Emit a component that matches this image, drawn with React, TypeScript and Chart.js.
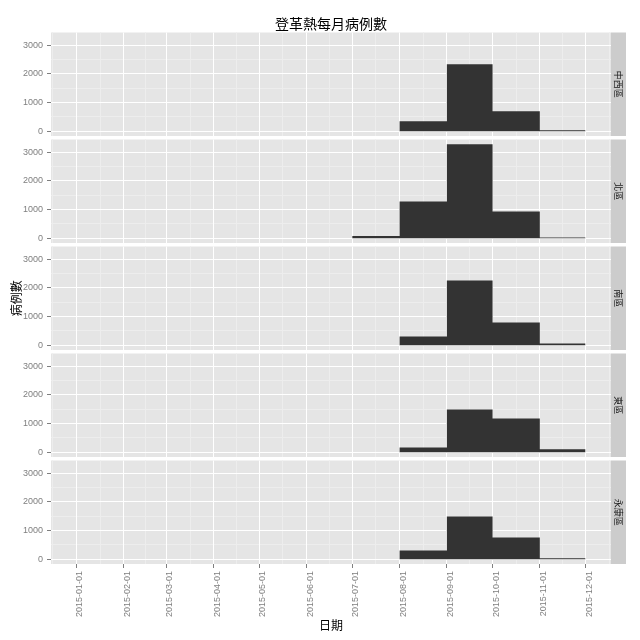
import { useEffect, useRef } from "react";
import { Chart, registerables } from "chart.js";

Chart.register(...registerables);

// ---------- data ----------
const TITLE = "登革熱每月病例數";
const X_TITLE = "日期";
const Y_TITLE = "病例數";

// month bin starts (the last one closes the final bin)
const monthStarts = [
  "2015-01-01", "2015-02-01", "2015-03-01", "2015-04-01", "2015-05-01", "2015-06-01",
  "2015-07-01", "2015-08-01", "2015-09-01", "2015-10-01", "2015-11-01", "2015-12-01",
];

const districts = ["中西區", "北區", "南區", "東區", "永康區"];

// monthly case counts, Jan..Nov 2015
const casesZhongxi = [0, 0, 0, 0, 0, 0, 0, 350, 2335, 697, 35];
const casesNorth = [0, 0, 0, 0, 0, 0, 84, 1280, 3275, 931, 28];
const casesSouth = [0, 0, 0, 0, 0, 0, 0, 303, 2257, 792, 59];
const casesEast = [0, 0, 0, 0, 0, 0, 0, 164, 1489, 1175, 105];
const casesYongkang = [0, 0, 0, 0, 0, 0, 0, 303, 1489, 757, 35];

const seriesByDistrict = [casesZhongxi, casesNorth, casesSouth, casesEast, casesYongkang];

const yMajorTicks = [0, 1000, 2000, 3000];
const yMinorTicks = [500, 1500, 2500];

// ---------- derived scale helpers ----------
const DAY_MS = 86400000;
const t0 = Date.parse(monthStarts[0] + "T00:00:00Z");
const dayOf = (s: string) => (Date.parse(s + "T00:00:00Z") - t0) / DAY_MS;
const majorDays = monthStarts.map(dayOf);
const span = majorDays[majorDays.length - 1] - majorDays[0];
const xMin = majorDays[0] - 0.05 * span;
const xMax = majorDays[majorDays.length - 1] + 0.05 * span;
const step0 = majorDays[1] - majorDays[0];
const extDays = [majorDays[0] - step0, ...majorDays, majorDays[majorDays.length - 1] + step0];
const xMinorDays = extDays
  .slice(1)
  .map((d, i) => (d + extDays[i]) / 2)
  .filter((d) => d > xMin && d < xMax);

const maxCount = Math.max(...seriesByDistrict.flat());
const yMin = -0.05 * maxCount;
const yMax = maxCount * 1.05;

// ---------- layout ----------
const W = 640;
const PANEL_TOP0 = 32.5;
const PANEL_H = 103.5;
const PANEL_STEP = 107;
const PLOT_LEFT = 51;
const PLOT_RIGHT = 611;
const STRIP_W = 15;

const NUM_FONT = '"Liberation Sans", Arial, sans-serif';
const CJK_FONT = '"Noto Sans CJK TC", "Noto Sans CJK SC", sans-serif';
const AXIS_GREY = "#7F7F7F";

const panelBg = {
  id: "panelBg",
  beforeDraw(chart: any) {
    const { ctx, chartArea: a } = chart;
    ctx.save();
    ctx.fillStyle = "#E5E5E5";
    ctx.fillRect(a.left, a.top, a.right - a.left, a.bottom - a.top);
    ctx.restore();
  },
};

const stripPlugin = {
  id: "strip",
  afterDraw(chart: any, _args: any, opts: any) {
    const { ctx, chartArea: a } = chart;
    ctx.save();
    ctx.fillStyle = "#CCCCCC";
    ctx.fillRect(a.right, a.top, STRIP_W, a.bottom - a.top);
    ctx.translate(a.right + STRIP_W / 2, (a.top + a.bottom) / 2);
    ctx.rotate(Math.PI / 2);
    ctx.fillStyle = "#1A1A1A";
    ctx.font = "9px " + CJK_FONT;
    ctx.textAlign = "center";
    ctx.textBaseline = "middle";
    ctx.fillText(opts.label, 0, 0);
    ctx.restore();
  },
};

function makeConfig(i: number): any {
  const n = districts.length;
  const top = PANEL_TOP0 + i * PANEL_STEP;
  const bottom = top + PANEL_H;
  const isFirst = i === 0;
  const isLast = i === n - 1;
  const titleH = isFirst ? 14 * 1.2 : 0;
  const vals = seriesByDistrict[i];
  const points = vals.map((v, k) => ({ x: majorDays[k], y: v }));
  points.push({ x: majorDays[vals.length], y: vals[vals.length - 1] });

  return {
    type: "line",
    data: {
      datasets: [
        {
          label: districts[i],
          data: points,
          stepped: "before",
          fill: "origin",
          backgroundColor: "#333333",
          borderColor: "rgba(0,0,0,0)",
          borderWidth: 0,
          pointRadius: 0,
          pointHoverRadius: 0,
        },
      ],
    },
    options: {
      responsive: false,
      animation: false,
      events: [],
      layout: {
        padding: {
          left: 0,
          right: W - PLOT_RIGHT,
          top: top - titleH,
          bottom: isLast ? 0 : W - bottom,
        },
      },
      plugins: {
        legend: { display: false },
        tooltip: { enabled: false },
        title: {
          display: isFirst,
          text: TITLE,
          fullSize: false,
          color: "#000000",
          font: { family: CJK_FONT, size: 14, weight: "normal" },
          padding: 0,
        },
        strip: { label: districts[i] },
      },
      scales: {
        xMinor: {
          type: "linear",
          axis: "x",
          position: "bottom",
          min: xMin,
          max: xMax,
          bounds: "data",
          afterBuildTicks: (s: any) => {
            s.ticks = xMinorDays.map((v) => ({ value: v }));
          },
          afterFit: (s: any) => {
            s.height = 0;
          },
          ticks: { display: false },
          grid: { color: "#EDEDED", lineWidth: 1, drawTicks: false, z: -2 },
          border: { display: false },
        },
        yMinor: {
          type: "linear",
          axis: "y",
          position: "left",
          min: yMin,
          max: yMax,
          bounds: "data",
          afterBuildTicks: (s: any) => {
            s.ticks = yMinorTicks.map((v) => ({ value: v }));
          },
          afterFit: (s: any) => {
            s.width = 0;
          },
          ticks: { display: false },
          grid: { color: "#EDEDED", lineWidth: 1, drawTicks: false, z: -2 },
          border: { display: false },
        },
        x: {
          type: "linear",
          axis: "x",
          position: "bottom",
          min: xMin,
          max: xMax,
          bounds: "data",
          afterBuildTicks: (s: any) => {
            s.ticks = majorDays.map((v) => ({ value: v }));
          },
          afterFit: (s: any) => {
            s.height = isLast ? W - bottom : 0;
          },
          ticks: {
            display: isLast,
            autoSkip: false,
            minRotation: 90,
            maxRotation: 90,
            color: AXIS_GREY,
            font: { family: NUM_FONT, size: 9 },
            padding: 3,
            labelOffset: 3.5,
            callback: (_v: any, idx: number) => monthStarts[idx],
          },
          grid: {
            color: "#FFFFFF",
            lineWidth: 1,
            drawTicks: isLast,
            tickLength: 4,
            tickColor: AXIS_GREY,
            z: -1,
          },
          border: { display: false },
          title: {
            display: isLast,
            text: X_TITLE,
            color: "#000000",
            font: { family: CJK_FONT, size: 12 },
            padding: { top: 0, bottom: 7.8 },
          },
        },
        y: {
          type: "linear",
          axis: "y",
          position: "left",
          min: yMin,
          max: yMax,
          bounds: "data",
          afterBuildTicks: (s: any) => {
            s.ticks = yMajorTicks.map((v) => ({ value: v }));
          },
          afterFit: (s: any) => {
            s.width = PLOT_LEFT;
          },
          ticks: {
            color: AXIS_GREY,
            font: { family: NUM_FONT, size: 9 },
            padding: 4,
            callback: (v: any) => String(v),
          },
          grid: {
            color: "#FFFFFF",
            lineWidth: 1,
            drawTicks: true,
            tickLength: 4,
            tickColor: AXIS_GREY,
            z: -1,
          },
          border: { display: false },
          title: {
            display: i === 2,
            text: Y_TITLE,
            color: "#000000",
            font: { family: CJK_FONT, size: 12 },
            padding: { top: 9, bottom: 0 },
          },
        },
      },
    },
    plugins: [panelBg, stripPlugin],
  };
}

export default function App() {
  const refs = useRef<(HTMLCanvasElement | null)[]>([]);

  useEffect(() => {
    const charts: Chart[] = [];
    refs.current.forEach((canvas, i) => {
      if (canvas) charts.push(new Chart(canvas, makeConfig(i)));
    });
    return () => {
      charts.forEach((c) => c.destroy());
    };
  }, []);

  return (
    <div
      style={{
        position: "fixed",
        left: 0,
        top: 0,
        width: W,
        height: W,
        background: "#FFFFFF",
      }}
    >
      {districts.map((d, i) => (
        <canvas
          key={d}
          ref={(el) => {
            refs.current[i] = el;
          }}
          width={W}
          height={W}
          style={{ position: "absolute", left: 0, top: 0, width: W, height: W }}
        />
      ))}
    </div>
  );
}
